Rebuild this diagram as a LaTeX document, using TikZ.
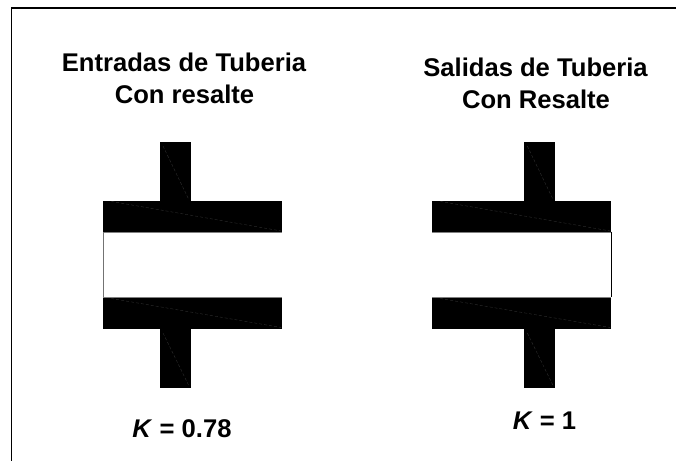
\documentclass[tikz,border=0pt]{standalone}
\usepackage{fontspec}
\setmainfont{Liberation Sans}
\tikzset{
  lbl/.style={font=\bfseries\fontsize{25.6}{30}\selectfont,anchor=base,inner sep=0pt,text=black},
  solidpart/.style={fill=black,draw=none},
  seam/.style={draw=black!82,line width=0.4pt,densely dashed},
  wall/.style={draw=black,line width=0.6pt}
}
\begin{document}
\begin{tikzpicture}[x=1pt,y=-1pt]
\useasboundingbox (0,0) rectangle (676,461);
\fill[white] (0,0) rectangle (676,461);
\draw[black,line width=1.8pt] (676,7.8) -- (11.5,7.8) -- (11.5,461);
\node[lbl] (t1a) at (184,71.7) {Entradas de Tuberia};
\node[lbl] (t1b) at (184.5,103.3) {Con resalte};
\node[lbl] (t2a) at (535.5,76) {Salidas de Tuberia};
\node[lbl] (t2b) at (536,108.5) {Con Resalte};
\node[lbl] (k1) at (182,437) {\textit{K} = 0.78};
\node[lbl] (k2) at (544.5,429.3) {\textit{K} = 1};
\foreach \x/\s in {103.3/160,432.3/524.3}{
  \fill[solidpart] (\s,142) rectangle (\s+30.7,201);
  \fill[solidpart] (\x,200.7) rectangle (\x+179,231.7);
  \fill[solidpart] (\x,297) rectangle (\x+179,328.7);
  \fill[solidpart] (\s,328) rectangle (\s+30.7,387.7);
  \draw[black!50,line width=0.5pt] (\x,231.9) -- (\x+179,231.9) (\x,296.9) -- (\x+179,296.9);
  \draw[seam] (\x+8,201.4) -- (\x+178,231);
  \draw[seam] (\x+8,298.5) -- (\x+178,327.5);
  \draw[seam] (\s+3,146) -- (\s+29,200);
  \draw[seam] (\s+3,333) -- (\s+29,386);
}
\draw[black!55,line width=0.7pt] (103.8,231.7) -- (103.8,297);
\draw[wall] (611.4,231.7) -- (611.4,297);
\end{tikzpicture}
\end{document}
